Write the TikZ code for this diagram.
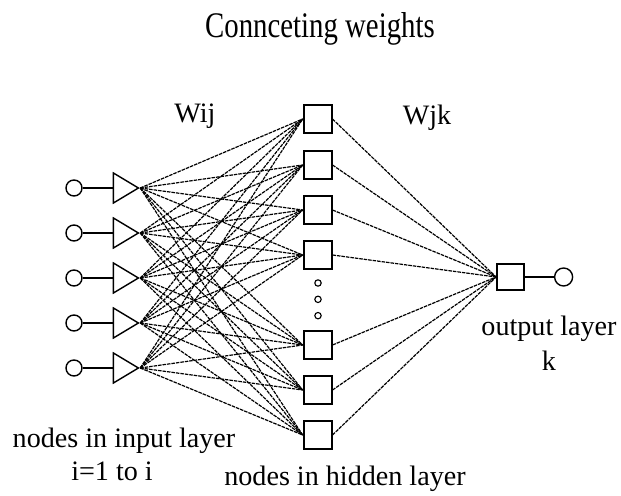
\documentclass[tikz,border=0pt]{standalone}
\usepackage{fontspec}
\setmainfont{Liberation Serif}
\usetikzlibrary{shapes.geometric,positioning}

\begin{document}
\begin{tikzpicture}[
    node distance=0.75cm,
    inpt/.style={circle, draw=black, line width=1pt, minimum size=0.4cm, inner sep=0pt},
    buffer/.style={isosceles triangle, isosceles triangle stretches, draw=black, line width=1pt, minimum width=0.75cm, minimum height=0.625cm, inner sep=0pt},
    hidden/.style={rectangle, draw=black, line width=1.3pt, minimum size=0.7cm, inner sep=0pt},
    dot/.style={circle, draw=black, line width=0.8pt, minimum size=0.16cm, inner sep=0pt},
    wire/.style={line width=0.85pt, dash pattern=on 2.5pt off 0.7pt},
    txt/.style={font=\fontsize{20}{24}\selectfont, inner sep=0pt, anchor=base}
]
    \useasboundingbox (0,0) rectangle (15.525,12.375);

    % Title
    \node[txt] (title) at (8.0,11.425) {\fontsize{25.6}{30}\selectfont\scalebox{0.8}[1]{Connceting weights}};

    % Input layer (left)
    \foreach \i/\y in {1/7.675, 2/6.55, 3/5.425, 4/4.3, 5/3.175} {
        \node[inpt] (in\i) at (1.85,\y) {};
        \node[buffer, right=0.75cm of in\i] (buf\i) {};
        \draw[line width=1pt] (in\i) -- (buf\i);
    }

    % Hidden layer (center)
    \foreach \j/\y in {1/9.4, 2/8.25, 3/7.125, 4/6.0, 5/3.75, 6/2.625, 7/1.5}
        \node[hidden] (hid\j) at (7.94,\y) {};
    \node[dot] (dot1) at (7.95,5.3) {};
    \node[dot, below=0.22cm of dot1] (dot2) {};
    \node[dot, below=0.22cm of dot2] (dot3) {};

    % Output layer (right)
    \node[hidden, minimum size=0.67cm] (out) at (12.76,5.45) {};
    \node[inpt, minimum size=0.45cm, right=0.73cm of out] (res) {};
    \draw[line width=1pt] (out) -- (res);

    % Weights
    \foreach \i in {1,...,5}
        \foreach \j in {1,...,7}
            \draw[wire] (buf\i.apex) -- (hid\j.west);
    \foreach \j in {1,...,7}
        \draw[wire] (hid\j.east) -- (out.west);

    % Labels
    \node[txt] (wij) at (4.875,9.3) {Wij};
    \node[txt] (wjk) at (10.675,9.25) {Wjk};
    \node[txt] (outlbl) at (13.725,4.0) {output layer};
    \node[txt] (klbl) at (13.725,3.125) {k};
    \node[txt] (inlbl) at (3.1,1.2) {nodes in input layer};
    \node[txt] (ilbl) at (2.8,0.375) {i=1 to i};
    \node[txt] (hidlbl) at (8.625,0.25) {nodes in hidden layer};
\end{tikzpicture}
\end{document}
